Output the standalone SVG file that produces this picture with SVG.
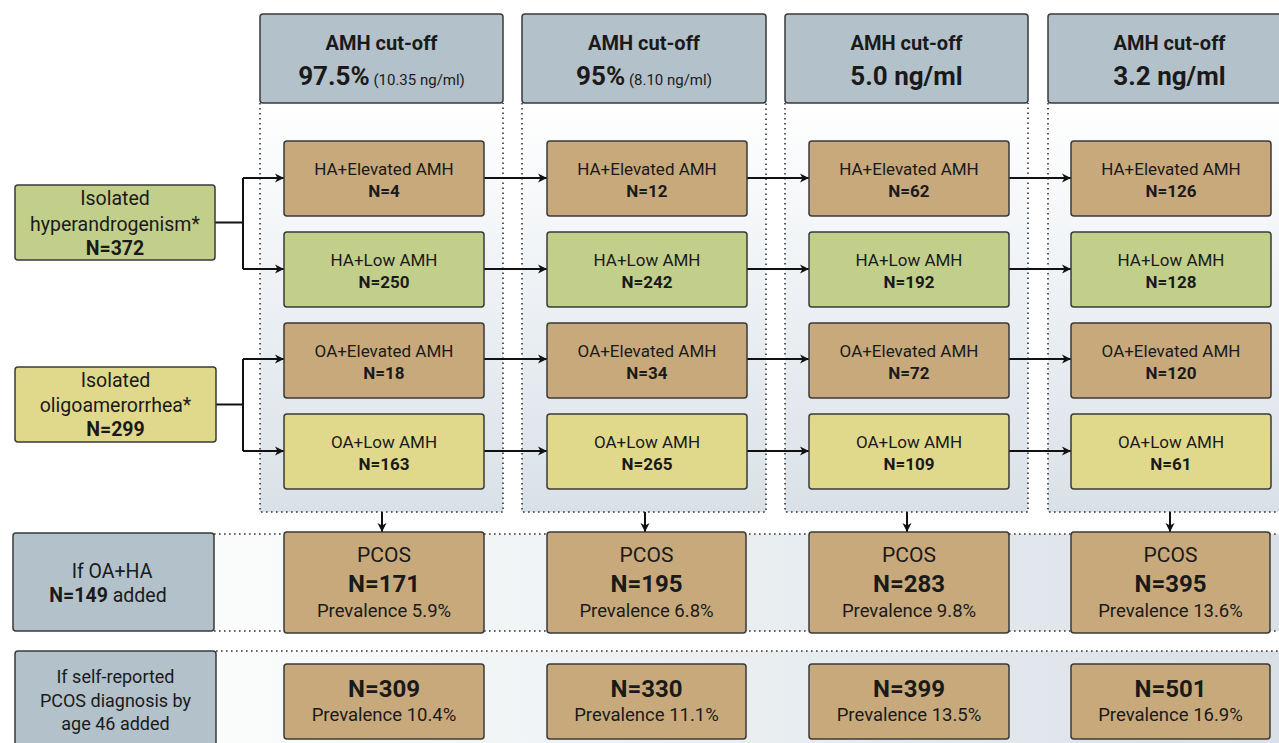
<svg xmlns="http://www.w3.org/2000/svg" width="1279" height="743" viewBox="0 0 1279 743">
<defs>
<linearGradient id="gPanel" x1="0" y1="0" x2="0" y2="1">
<stop offset="0" stop-color="#ffffff"/>
<stop offset="1" stop-color="#d9e1e8"/>
</linearGradient>
<linearGradient id="gBand" gradientUnits="userSpaceOnUse" x1="214" y1="0" x2="1279" y2="0">
<stop offset="0" stop-color="#fbfcfc"/>
<stop offset="1" stop-color="#d9e0e6"/>
</linearGradient>
<marker id="ah" markerUnits="userSpaceOnUse" markerWidth="10" markerHeight="10" refX="9" refY="5" orient="auto">
<path d="M0,0.5 L9,5 L0,9.5 L2.5,5 Z" fill="#111"/>
</marker>
<style>
.hdr{fill:#b3c1cb;stroke:#3a3a3a;stroke-width:1.5}
.box{stroke:#3a3a3a;stroke-width:1.5}
.br{fill:#c8a97b}
.gr{fill:#c2cf8b}
.ye{fill:#e0d98c}
.gy{fill:#b3c1cb}
.dot{stroke:#333;stroke-width:1.6;stroke-dasharray:1.6 3.4;fill:none}
.conn{stroke:#111;stroke-width:2;fill:none}
.arr{marker-end:url(#ah)}
text{font-family:Roboto,"Liberation Sans",sans-serif;fill:#1a1a1a;text-anchor:middle}
.b{font-weight:bold}
.h1{font-size:20px;font-weight:bold}
.h2{font-size:26px;font-weight:bold}
.hs{font-size:15px;font-weight:normal}
.n{font-size:17px}
.l{font-size:19.5px}
.p1{font-size:21px}
.p2{font-size:24px;font-weight:bold}
.p3{font-size:18.5px}
.q{font-size:18px}
</style>
</defs>
<rect width="1279" height="743" fill="#ffffff"/>

<g id="panels">
<rect x="260" y="103" width="243" height="409" fill="url(#gPanel)"/>
<rect x="522" y="103" width="244" height="409" fill="url(#gPanel)"/>
<rect x="785" y="103" width="243" height="409" fill="url(#gPanel)"/>
<rect x="1048" y="103" width="243" height="409" fill="url(#gPanel)"/>
<path class="dot" d="M260,103 V512 H503 V103"/>
<path class="dot" d="M522,103 V512 H766 V103"/>
<path class="dot" d="M785,103 V512 H1028 V103"/>
<path class="dot" d="M1048,103 V512 H1279"/>
</g>

<g id="bands">
<rect x="214" y="534" width="1065" height="97" fill="url(#gBand)"/>
<path class="dot" d="M214,534 H1279 M214,631 H1279"/>
<rect x="216" y="651" width="1063" height="92" fill="url(#gBand)"/>
<path class="dot" d="M216,651 H1279"/>
</g>

<g id="headers">
<g id="hdr1"><rect class="hdr" x="260" y="14" width="243" height="89" rx="3"/>
<text x="381.5" y="50" class="h1">AMH cut-off</text>
<text x="381.5" y="85" class="h2">97.5%<tspan class="hs"> (10.35 ng/ml)</tspan></text></g>
<g id="hdr2"><rect class="hdr" x="522" y="14" width="244" height="89" rx="3"/>
<text x="644" y="50" class="h1">AMH cut-off</text>
<text x="644" y="85" class="h2">95%<tspan class="hs"> (8.10 ng/ml)</tspan></text></g>
<g id="hdr3"><rect class="hdr" x="785" y="14" width="243" height="89" rx="3"/>
<text x="906.5" y="50" class="h1">AMH cut-off</text>
<text x="906.5" y="85" class="h2">5.0 ng/ml</text></g>
<g id="hdr4"><rect class="hdr" x="1048" y="14" width="243" height="89" rx="3"/>
<text x="1169.5" y="50" class="h1">AMH cut-off</text>
<text x="1169.5" y="85" class="h2">3.2 ng/ml</text></g>
</g>

<g id="connectors">
<path class="conn" d="M215,222.5 H243 M243,178 V269"/>
<path class="conn arr" d="M243,178 H284"/>
<path class="conn arr" d="M243,269 H284"/>
<path class="conn" d="M216,404.5 H243 M243,359 V451"/>
<path class="conn arr" d="M243,359 H284"/>
<path class="conn arr" d="M243,451 H284"/>
<path class="conn arr" d="M484,178 H547"/>
<path class="conn arr" d="M484,269 H547"/>
<path class="conn arr" d="M484,359 H547"/>
<path class="conn arr" d="M484,451 H547"/>
<path class="conn arr" d="M747,178 H809"/>
<path class="conn arr" d="M747,269 H809"/>
<path class="conn arr" d="M747,359 H809"/>
<path class="conn arr" d="M747,451 H809"/>
<path class="conn arr" d="M1009,178 H1071"/>
<path class="conn arr" d="M1009,269 H1071"/>
<path class="conn arr" d="M1009,359 H1071"/>
<path class="conn arr" d="M1009,451 H1071"/>
<path class="conn arr" d="M382,512 V532"/>
<path class="conn arr" d="M645,512 V532"/>
<path class="conn arr" d="M907,512 V532"/>
<path class="conn arr" d="M1170,512 V532"/>
</g>

<g id="src-ha"><rect class="box gr" x="15" y="185" width="200" height="75" rx="3"/>
<text x="115" y="205" class="l">Isolated</text>
<text x="115" y="231" class="l">hyperandrogenism*</text>
<text x="115" y="255" class="l b">N=372</text></g>
<g id="src-oa"><rect class="box ye" x="15" y="367" width="201" height="75" rx="3"/>
<text x="115.5" y="387" class="l">Isolated</text>
<text x="115.5" y="412" class="l">oligoamerorrhea*</text>
<text x="115.5" y="436" class="l b">N=299</text></g>

<g id="c1r1"><rect class="box br" x="284" y="141" width="200" height="75" rx="3"/><text x="384" y="175" class="n">HA+Elevated AMH</text><text x="384" y="197" class="n b">N=4</text></g>
<g id="c1r2"><rect class="box gr" x="284" y="232" width="200" height="75" rx="3"/><text x="384" y="266" class="n">HA+Low AMH</text><text x="384" y="288" class="n b">N=250</text></g>
<g id="c1r3"><rect class="box br" x="284" y="323" width="200" height="75" rx="3"/><text x="384" y="357" class="n">OA+Elevated AMH</text><text x="384" y="379" class="n b">N=18</text></g>
<g id="c1r4"><rect class="box ye" x="284" y="414" width="200" height="75" rx="3"/><text x="384" y="448" class="n">OA+Low AMH</text><text x="384" y="470" class="n b">N=163</text></g>

<g id="c2r1"><rect class="box br" x="547" y="141" width="200" height="75" rx="3"/><text x="647" y="175" class="n">HA+Elevated AMH</text><text x="647" y="197" class="n b">N=12</text></g>
<g id="c2r2"><rect class="box gr" x="547" y="232" width="200" height="75" rx="3"/><text x="647" y="266" class="n">HA+Low AMH</text><text x="647" y="288" class="n b">N=242</text></g>
<g id="c2r3"><rect class="box br" x="547" y="323" width="200" height="75" rx="3"/><text x="647" y="357" class="n">OA+Elevated AMH</text><text x="647" y="379" class="n b">N=34</text></g>
<g id="c2r4"><rect class="box ye" x="547" y="414" width="200" height="75" rx="3"/><text x="647" y="448" class="n">OA+Low AMH</text><text x="647" y="470" class="n b">N=265</text></g>

<g id="c3r1"><rect class="box br" x="809" y="141" width="200" height="75" rx="3"/><text x="909" y="175" class="n">HA+Elevated AMH</text><text x="909" y="197" class="n b">N=62</text></g>
<g id="c3r2"><rect class="box gr" x="809" y="232" width="200" height="75" rx="3"/><text x="909" y="266" class="n">HA+Low AMH</text><text x="909" y="288" class="n b">N=192</text></g>
<g id="c3r3"><rect class="box br" x="809" y="323" width="200" height="75" rx="3"/><text x="909" y="357" class="n">OA+Elevated AMH</text><text x="909" y="379" class="n b">N=72</text></g>
<g id="c3r4"><rect class="box ye" x="809" y="414" width="200" height="75" rx="3"/><text x="909" y="448" class="n">OA+Low AMH</text><text x="909" y="470" class="n b">N=109</text></g>

<g id="c4r1"><rect class="box br" x="1071" y="141" width="200" height="75" rx="3"/><text x="1171" y="175" class="n">HA+Elevated AMH</text><text x="1171" y="197" class="n b">N=126</text></g>
<g id="c4r2"><rect class="box gr" x="1071" y="232" width="200" height="75" rx="3"/><text x="1171" y="266" class="n">HA+Low AMH</text><text x="1171" y="288" class="n b">N=128</text></g>
<g id="c4r3"><rect class="box br" x="1071" y="323" width="200" height="75" rx="3"/><text x="1171" y="357" class="n">OA+Elevated AMH</text><text x="1171" y="379" class="n b">N=120</text></g>
<g id="c4r4"><rect class="box ye" x="1071" y="414" width="200" height="75" rx="3"/><text x="1171" y="448" class="n">OA+Low AMH</text><text x="1171" y="470" class="n b">N=61</text></g>

<g id="if-oaha"><rect class="box gy" x="13" y="533" width="201" height="98" rx="3"/>
<text x="112" y="578" class="p1" style="font-size:19.5px">If OA+HA</text>
<text x="108" y="602" class="p1" style="font-size:19.5px"><tspan class="b">N=149</tspan> added</text></g>
<g id="pcos1"><rect class="box br" x="284" y="532" width="200" height="101" rx="3"/><text x="384" y="562" class="p1">PCOS</text><text x="384" y="592" class="p2">N=171</text><text x="384" y="617" class="p3">Prevalence 5.9%</text></g>
<g id="pcos2"><rect class="box br" x="547" y="532" width="199" height="101" rx="3"/><text x="646.5" y="562" class="p1">PCOS</text><text x="646.5" y="592" class="p2">N=195</text><text x="646.5" y="617" class="p3">Prevalence 6.8%</text></g>
<g id="pcos3"><rect class="box br" x="809" y="532" width="200" height="101" rx="3"/><text x="909" y="562" class="p1">PCOS</text><text x="909" y="592" class="p2">N=283</text><text x="909" y="617" class="p3">Prevalence 9.8%</text></g>
<g id="pcos4"><rect class="box br" x="1071" y="532" width="199" height="101" rx="3"/><text x="1170.5" y="562" class="p1">PCOS</text><text x="1170.5" y="592" class="p2">N=395</text><text x="1170.5" y="617" class="p3">Prevalence 13.6%</text></g>

<g id="if-self"><rect class="box gy" x="15" y="651" width="201" height="110" rx="3"/>
<text x="115.5" y="683" class="q">If self-reported</text>
<text x="115.5" y="707" class="q">PCOS diagnosis by</text>
<text x="115.5" y="730" class="q">age 46 added</text></g>
<g id="self1"><rect class="box br" x="284" y="664" width="200" height="75" rx="3"/><text x="384" y="697" class="p2">N=309</text><text x="384" y="721" class="p3">Prevalence 10.4%</text></g>
<g id="self2"><rect class="box br" x="547" y="664" width="199" height="75" rx="3"/><text x="646.5" y="697" class="p2">N=330</text><text x="646.5" y="721" class="p3">Prevalence 11.1%</text></g>
<g id="self3"><rect class="box br" x="809" y="664" width="200" height="75" rx="3"/><text x="909" y="697" class="p2">N=399</text><text x="909" y="721" class="p3">Prevalence 13.5%</text></g>
<g id="self4"><rect class="box br" x="1071" y="664" width="199" height="75" rx="3"/><text x="1170.5" y="697" class="p2">N=501</text><text x="1170.5" y="721" class="p3">Prevalence 16.9%</text></g>
</svg>
